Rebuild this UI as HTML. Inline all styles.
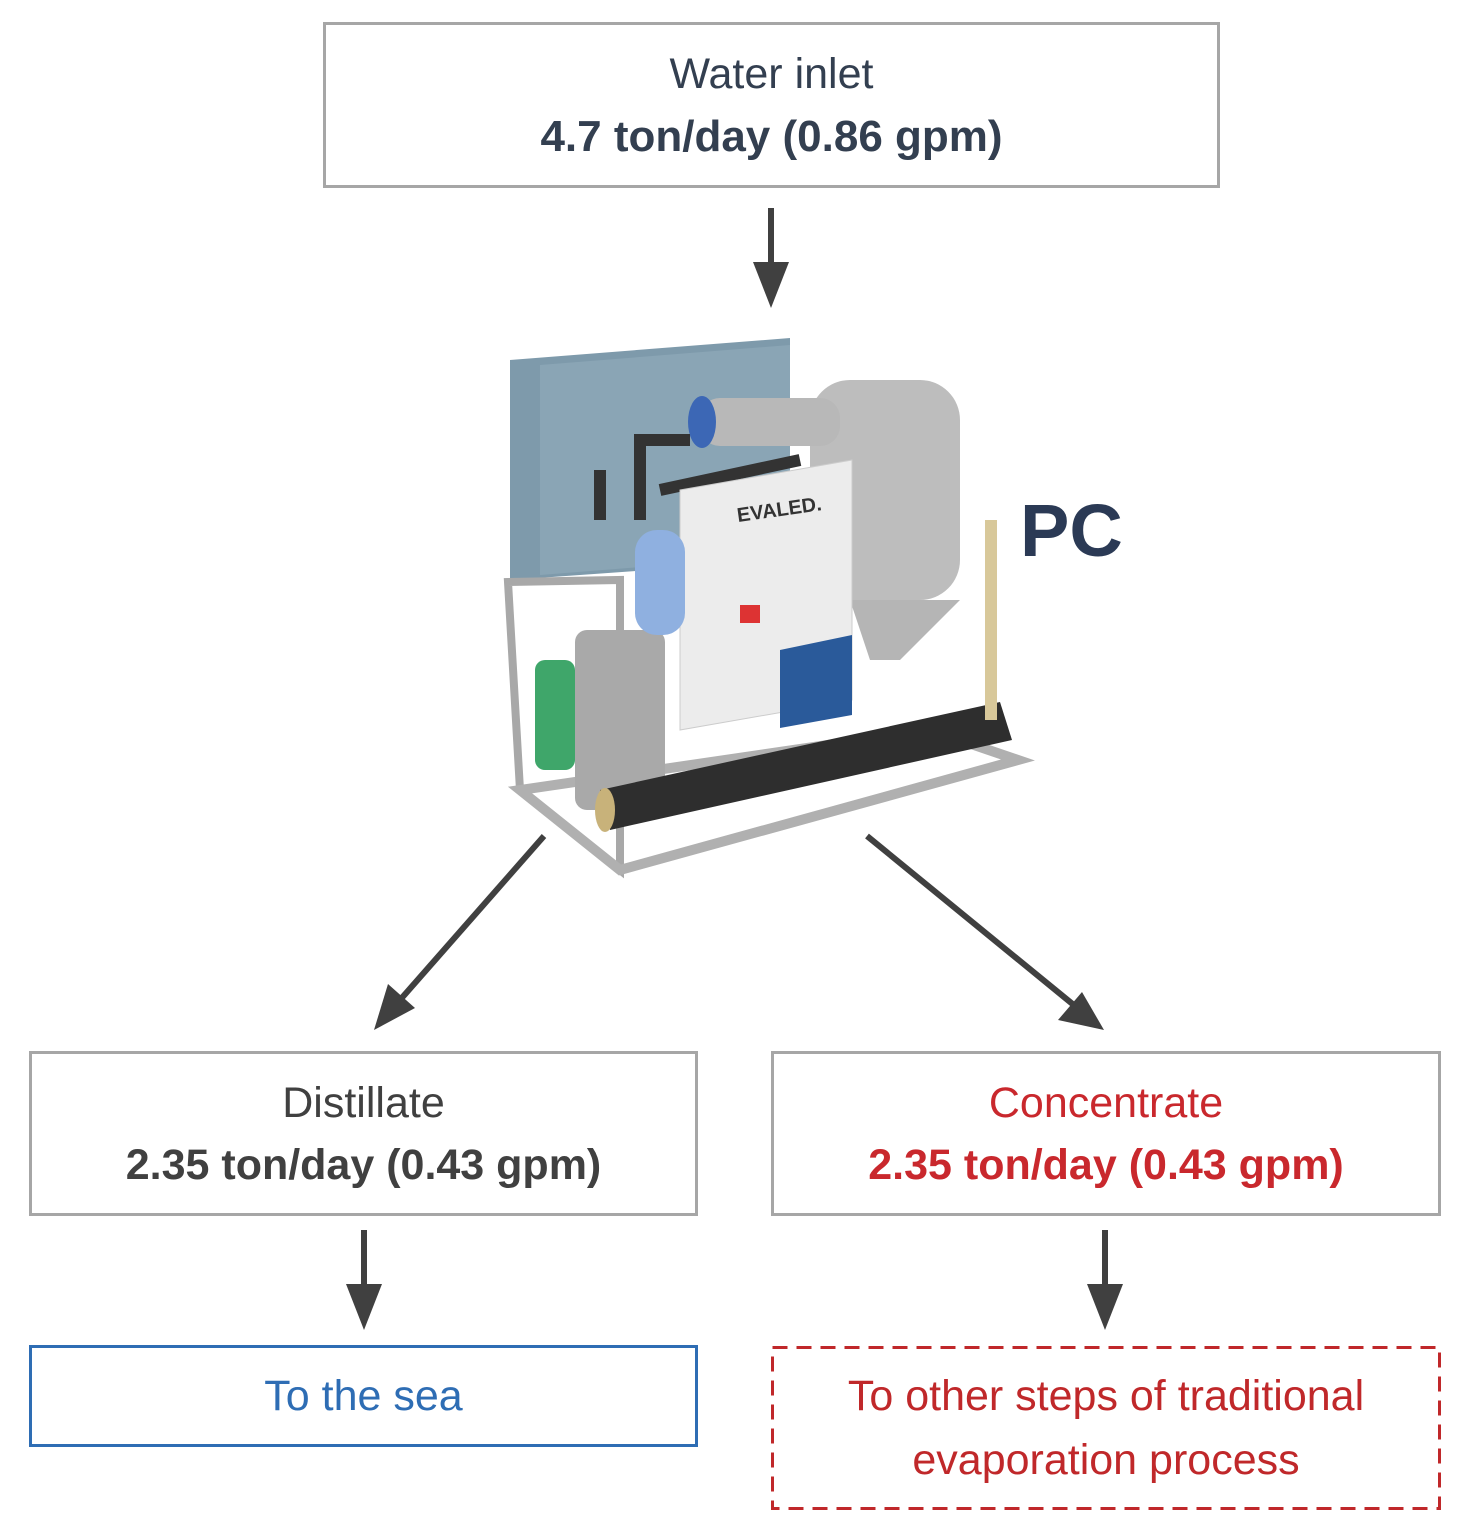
<!DOCTYPE html>
<html><head><meta charset="utf-8"><style>
html,body{margin:0;padding:0;background:#fff;}
body{width:1468px;height:1536px;position:relative;overflow:hidden;font-family:"Liberation Sans",sans-serif;}
.box{position:absolute;box-sizing:border-box;border:3px solid #a6a6a6;text-align:center;}
.t{position:absolute;left:0;right:0;text-align:center;white-space:nowrap;}
</style></head><body>
<div class="box" style="left:323px;top:22px;width:897px;height:166px;"></div>
<div class="t" style="left:323px;width:897px;top:50px;font-size:43px;color:#333f50;">Water inlet</div>
<div class="t" style="left:323px;width:897px;top:112px;font-size:44px;font-weight:bold;color:#333f50;">4.7 ton/day (0.86 gpm)</div>

<div class="box" style="left:29px;top:1051px;width:669px;height:165px;"></div>
<div class="t" style="left:29px;width:669px;top:1079px;font-size:43px;color:#404040;">Distillate</div>
<div class="t" style="left:29px;width:669px;top:1141px;font-size:43px;font-weight:bold;color:#404040;">2.35 ton/day (0.43 gpm)</div>

<div class="box" style="left:771px;top:1051px;width:670px;height:165px;"></div>
<div class="t" style="left:771px;width:670px;top:1079px;font-size:43px;color:#c9282d;">Concentrate</div>
<div class="t" style="left:771px;width:670px;top:1141px;font-size:43px;font-weight:bold;color:#c9282d;">2.35 ton/day (0.43 gpm)</div>

<div class="box" style="left:29px;top:1345px;width:669px;height:102px;border-color:#2e6db4;"></div>
<div class="t" style="left:29px;width:669px;top:1372px;font-size:43px;color:#2e6db4;">To the sea</div>

<div class="t" style="left:771px;width:670px;top:1372px;font-size:43px;color:#c0282a;">To other steps of traditional</div>
<div class="t" style="left:771px;width:670px;top:1436px;font-size:43px;color:#c0282a;">evaporation process</div>

<div class="t" style="left:1020px;top:488px;right:auto;font-size:74px;font-weight:bold;color:#2b3a55;">PC</div>

<svg style="position:absolute;left:0;top:0" width="1468" height="1536">
<rect x="772.5" y="1347.5" width="667" height="161" fill="none" stroke="#c0282a" stroke-width="3" stroke-dasharray="15,9"/>
<g fill="#404040" stroke="#404040">
<line x1="771" y1="208" x2="771" y2="270" stroke-width="6"/>
<polygon points="753,262 789,262 771,308" stroke="none"/>
<line x1="364" y1="1230" x2="364" y2="1292" stroke-width="6"/>
<polygon points="346,1284 382,1284 364,1330" stroke="none"/>
<line x1="1105" y1="1230" x2="1105" y2="1292" stroke-width="6"/>
<polygon points="1087,1284 1123,1284 1105,1330" stroke="none"/>
<line x1="544" y1="836" x2="400" y2="1000" stroke-width="6"/>
<polygon points="374,1030 388,984 415,1008" stroke="none"/>
<line x1="867" y1="836" x2="1075" y2="1006" stroke-width="6"/>
<polygon points="1104,1030 1058,1020 1082,992" stroke="none"/>
</g>
<g>
<polygon points="510,360 790,338 790,560 510,580" fill="#7e9aab"/>
<polygon points="540,365 790,345 790,555 540,575" fill="#8aa5b5"/>
<polygon points="508,582 620,580 620,870 520,790" fill="none" stroke="#a8a8a8" stroke-width="8"/>
<polygon points="520,790 620,870 1018,760 930,730" fill="none" stroke="#b0b0b0" stroke-width="10"/>
<rect x="535" y="660" width="40" height="110" fill="#3fa66a" rx="10"/>
<rect x="575" y="630" width="90" height="180" fill="#a9a9a9" rx="12"/>
<rect x="810" y="380" width="150" height="220" fill="#bdbdbd" rx="40"/>
<polygon points="850,600 960,600 900,660 870,660" fill="#b5b5b5"/>
<rect x="700" y="398" width="140" height="48" fill="#b8b8b8" rx="20"/>
<ellipse cx="702" cy="422" rx="14" ry="26" fill="#3c67b5"/>
<path d="M600,470 L600,520 M640,520 L640,440 L690,440 M660,490 L800,460" stroke="#333" stroke-width="12" fill="none"/>
<polygon points="680,490 852,460 852,700 680,730" fill="#ececec" stroke="#ccc"/>
<polygon points="780,650 852,635 852,715 780,728" fill="#2a5a9a"/>
<text x="738" y="522" font-size="20" font-weight="bold" fill="#333" transform="rotate(-8 738 522)">EVALED.</text>
<rect x="635" y="530" width="50" height="105" fill="#8fb0e0" rx="22"/>
<rect x="740" y="605" width="20" height="18" fill="#d33"/>
<polygon points="600,790 1000,702 1012,740 610,830" fill="#2e2e2e"/>
<ellipse cx="605" cy="810" rx="10" ry="22" fill="#c8b27a"/>
<rect x="985" y="520" width="12" height="200" fill="#d8c89a"/>
</g>
</svg>
</body></html>
